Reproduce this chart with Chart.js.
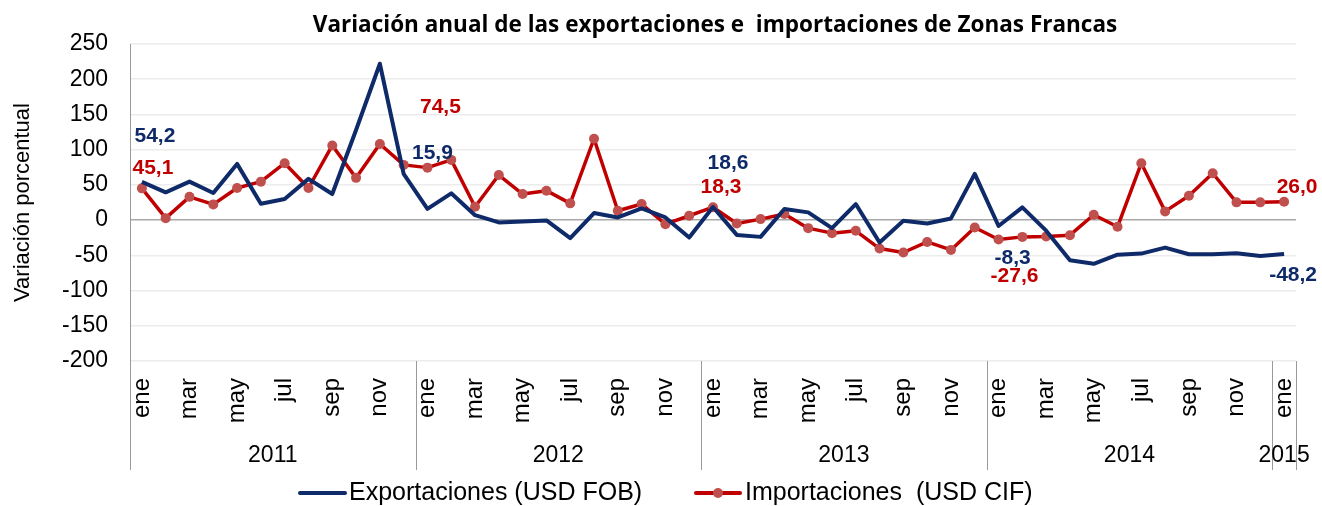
<!DOCTYPE html>
<html>
<head>
<meta charset="utf-8">
<script src="https://cdn.jsdelivr.net/npm/chart.js@4/dist/chart.umd.min.js"></script>
<style>
  html, body { margin: 0; padding: 0; background: #ffffff; }
  #wrap { width: 1322px; height: 506px; position: relative; }
</style>
</head>
<body>
<div id="wrap"><canvas id="c" width="1322" height="506"></canvas></div>
<script>
const chartTitle = 'Variación anual de las exportaciones e  importaciones de Zonas Francas';
const yAxisTitle = 'Variación porcentual';
const years = ['2011', '2012', '2013', '2014', '2015'];
const monthNames = ['ene','feb','mar','abr','may','jun','jul','ago','sep','oct','nov','dic'];
const monthsPerYear = [12, 12, 12, 12, 1];
const yTicks = [250, 200, 150, 100, 50, 0, -50, -100, -150, -200];

const exportaciones = [
  54.2, 39.4, 54.7, 38.5, 79.8, 23.3, 30.0, 58.5, 37.0, 128.0, 222.0, 65.6,
  15.9, 38.0, 7.0, -3.3, -2.0, -0.5, -25.7, 10.0, 3.8, 16.6, 3.8, -24.7,
  18.6, -21.0, -23.8, 15.7, 11.0, -11.4, 22.8, -31.8, -1.0, -4.8, 2.4, 65.6,
  -8.3, 18.0, -15.0, -57.0, -62.0, -49.0, -47.5, -39.0, -48.5, -48.5, -47.0, -51.0,
  -48.2
];
const importaciones = [
  45.1, 2.8, 33.0, 22.3, 45.6, 54.6, 80.8, 45.6, 106.0, 60.0, 108.0, 78.4,
  74.5, 85.5, 19.0, 64.0, 37.0, 41.8, 23.8, 115.5, 13.3, 22.8, -5.7, 6.2,
  18.3, -4.8, 1.4, 8.6, -11.4, -18.5, -15.2, -40.4, -46.0, -31.0, -42.3, -10.5,
  -27.6, -23.8, -23.3, -21.4, 7.6, -9.5, 80.8, 12.4, 34.7, 66.5, 25.2, 25.2,
  26.0
];
const labeledIndexes = [0, 12, 24, 36, 48];
const seriesNames = ['Exportaciones (USD FOB)', 'Importaciones  (USD CIF)'];

// build category labels from the month and year lists
const categories = [];
years.forEach((y, yi) => {
  for (let m = 0; m < monthsPerYear[yi]; m++) { categories.push(monthNames[m]); }
});

const NAVY = '#0f2a68';
const RED = '#c00000';
const MARK = '#c0504d';
const FONT = "'Liberation Sans', Arial, sans-serif";

// label offsets (style only)
const labelStyle = {
  0: { 0: [13, -46], 12: [5, -56], 24: [15, -44], 36: [14, 32], 48: [9, 21] },
  1: { 0: [11, -20], 12: [13, -60], 24: [8, -20], 36: [16, 37], 48: [13, -15] }
};

const decor = {
  id: 'decor',
  afterDraw(chart) {
    const ctx = chart.ctx;
    const xs = chart.scales.x;
    const ca = chart.chartArea;
    ctx.save();
    // axis separator lines
    ctx.strokeStyle = '#9a9a9a';
    ctx.lineWidth = 1;
    const bottomY = 470;
    ctx.beginPath();
    ctx.moveTo(Math.round(ca.left) + 0.5, ca.top);
    ctx.lineTo(Math.round(ca.left) + 0.5, bottomY);
    let start = 0;
    const bounds = [];
    monthsPerYear.forEach(n => { start += n; bounds.push(start); });
    bounds.forEach(b => {
      const px = Math.round(xs.getPixelForValue(b - 0.5)) + 0.5;
      ctx.moveTo(px, ca.bottom);
      ctx.lineTo(px, bottomY);
    });
    ctx.stroke();
    // year labels
    ctx.fillStyle = '#000';
    ctx.font = '23px ' + FONT;
    ctx.textAlign = 'center';
    ctx.textBaseline = 'middle';
    let s = 0;
    years.forEach((y, yi) => {
      const a = xs.getPixelForValue(s - 0.5);
      const b = xs.getPixelForValue(s + monthsPerYear[yi] - 0.5);
      ctx.fillText(y, (a + b) / 2, 456);
      s += monthsPerYear[yi];
    });
    // title
    ctx.font = "bold 21px 'Open Sans', " + FONT;
    const w = ctx.measureText(chartTitle).width;
    const size = 21 * 805 / w;
    ctx.font = 'bold ' + size.toFixed(2) + "px 'Open Sans', " + FONT;
    ctx.fillStyle = '#000';
    ctx.fillText(chartTitle, 715, 26);
    // data labels
    ctx.font = 'bold 21px ' + FONT;
    chart.data.datasets.forEach((ds, di) => {
      const meta = chart.getDatasetMeta(di);
      ctx.fillStyle = di === 0 ? NAVY : RED;
      labeledIndexes.forEach(idx => {
        const pt = meta.data[idx];
        const off = labelStyle[di][idx];
        const txt = ds.data[idx].toFixed(1).replace('.', ',');
        ctx.fillText(txt, pt.x + off[0], pt.y + off[1]);
      });
    });
    // legend
    const ly = 493;
    ctx.font = '25px ' + FONT;
    ctx.textAlign = 'left';
    ctx.lineCap = 'round';
    ctx.lineWidth = 4;
    ctx.strokeStyle = NAVY;
    ctx.beginPath(); ctx.moveTo(300, ly); ctx.lineTo(345, ly); ctx.stroke();
    ctx.fillStyle = '#000';
    ctx.fillText(seriesNames[0], 349, ly);
    ctx.strokeStyle = RED;
    ctx.beginPath(); ctx.moveTo(696, ly); ctx.lineTo(740, ly); ctx.stroke();
    ctx.fillStyle = MARK;
    ctx.beginPath(); ctx.arc(718, ly, 5, 0, Math.PI * 2); ctx.fill();
    ctx.fillStyle = '#000';
    ctx.fillText(seriesNames[1], 745, ly);
    ctx.restore();
  }
};

new Chart(document.getElementById('c'), {
  type: 'line',
  data: {
    labels: categories,
    datasets: [
      {
        label: seriesNames[0],
        data: exportaciones,
        borderColor: NAVY,
        borderWidth: 4,
        pointRadius: 0,
        tension: 0,
        fill: false,
        borderJoinStyle: 'round'
      },
      {
        label: seriesNames[1],
        data: importaciones,
        borderColor: RED,
        borderWidth: 3.5,
        pointRadius: 5,
        pointBackgroundColor: MARK,
        pointBorderColor: MARK,
        pointBorderWidth: 0,
        tension: 0,
        fill: false,
        borderJoinStyle: 'round'
      }
    ]
  },
  options: {
    responsive: false,
    animation: false,
    layout: { padding: { left: 0, right: 26, top: 44, bottom: 36 } },
    plugins: {
      legend: { display: false },
      title: { display: false },
      tooltip: { enabled: false }
    },
    scales: {
      x: {
        type: 'category',
        offset: true,
        grid: { display: false, drawTicks: false },
        border: { display: false },
        ticks: {
          autoSkip: false,
          minRotation: 90,
          maxRotation: 90,
          padding: 17,
          color: '#000',
          font: { family: FONT, size: 24 },
          callback: function(v, i) {
            const m = monthNames.indexOf(categories[i]);
            return m % 2 === 0 ? categories[i] : '';
          }
        },
        afterFit(scale) {
          scale.height = 109;
          scale.paddingLeft = 0;
          scale.paddingRight = 0;
        }
      },
      y: {
        min: -200,
        max: 250,
        afterBuildTicks(scale) { scale.ticks = yTicks.map(v => ({ value: v })); },
        grid: {
          drawTicks: false,
          lineWidth: 1.5,
          color: ctx => (ctx.tick && ctx.tick.value === 0) ? '#a8a8a8' : '#ececec'
        },
        border: { display: false },
        ticks: {
          padding: 22,
          color: '#000',
          font: { family: FONT, size: 23 }
        },
        title: {
          display: true,
          text: yAxisTitle,
          color: '#000',
          font: { family: FONT, size: 22 },
          padding: { top: 10, bottom: 0 }
        },
        afterFit(scale) {
          scale.width = 130;
          scale.paddingTop = 0;
          scale.paddingBottom = 0;
        }
      }
    }
  },
  plugins: [decor]
});
</script>
</body>
</html>
